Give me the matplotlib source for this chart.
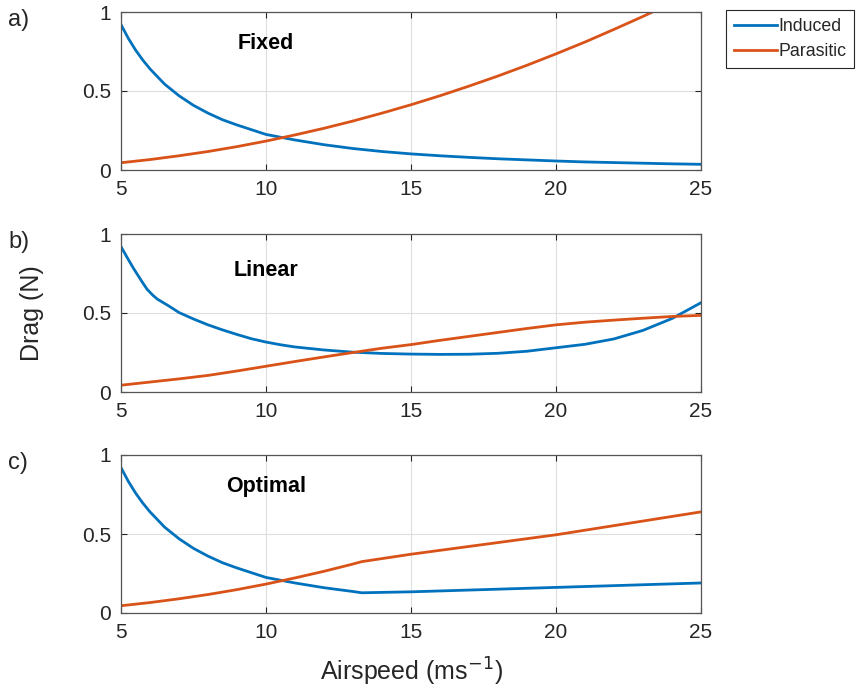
import numpy as np
import matplotlib.pyplot as plt

plt.rcParams['font.family'] = ['Liberation Sans', 'DejaVu Sans']

# airspeed (m/s) and drag (N) for the three strategies
v_fixed_ind = [5, 5.25, 5.5, 5.75, 6, 6.5, 7, 7.5, 8, 8.5, 9, 9.5, 10, 11, 12, 13, 14, 15,
               16, 17, 18, 19, 20, 21, 22, 23, 24, 25]
fixed_induced = [0.92, 0.834, 0.76, 0.696, 0.64, 0.544, 0.47, 0.409, 0.36, 0.318, 0.285,
                 0.255, 0.225, 0.19, 0.16, 0.136, 0.117, 0.102, 0.09, 0.08, 0.071, 0.064,
                 0.057, 0.051, 0.047, 0.043, 0.039, 0.036]
v_fixed_par = [5, 6, 7, 8, 9, 10, 11, 12, 13, 14, 15, 16, 17, 18, 19, 20, 21, 22, 23, 24, 25]
fixed_parasitic = [0.046, 0.066, 0.09, 0.117, 0.148, 0.183, 0.222, 0.264, 0.31, 0.36, 0.413,
                   0.47, 0.531, 0.595, 0.663, 0.735, 0.81, 0.89, 0.972, 1.058, 1.148]

v_lin_ind = [5, 5.2, 5.44, 5.7, 5.9, 6.1, 6.26, 6.6, 7, 7.5, 8, 8.5, 9, 9.5, 10, 10.5, 11,
             12, 13, 14, 15, 16, 17, 18, 19, 20, 21, 22, 23, 24, 25]
linear_induced = [0.92, 0.855, 0.78, 0.705, 0.65, 0.612, 0.587, 0.55, 0.503, 0.462, 0.425,
                  0.393, 0.364, 0.337, 0.316, 0.299, 0.285, 0.266, 0.252, 0.244, 0.24, 0.238,
                  0.239, 0.245, 0.258, 0.28, 0.302, 0.336, 0.39, 0.465, 0.565]
v_lin_par = [5, 6, 7, 8, 9, 10, 11, 12, 13, 14, 15, 16, 17, 18, 19, 20, 21, 22, 23, 24, 25]
linear_parasitic = [0.043, 0.063, 0.083, 0.105, 0.133, 0.163, 0.193, 0.222, 0.25, 0.277, 0.30,
                    0.327, 0.352, 0.377, 0.402, 0.425, 0.442, 0.455, 0.467, 0.478, 0.485]

v_opt_ind = [5, 5.25, 5.5, 5.75, 6, 6.5, 7, 7.5, 8, 8.5, 9, 9.5, 10, 11, 12, 13, 13.3, 15,
             20, 25]
optimal_induced = [0.92, 0.834, 0.76, 0.696, 0.64, 0.544, 0.47, 0.409, 0.36, 0.318, 0.285,
                   0.255, 0.225, 0.19, 0.16, 0.136, 0.128, 0.134, 0.162, 0.19]
v_opt_par = [5, 6, 7, 8, 9, 10, 11, 12, 13, 13.3, 15, 20, 25]
optimal_parasitic = [0.046, 0.066, 0.09, 0.117, 0.148, 0.183, 0.222, 0.264, 0.31, 0.325,
                     0.372, 0.495, 0.64]

panels = [
    ('a)', 'Fixed', v_fixed_ind, fixed_induced, v_fixed_par, fixed_parasitic),
    ('b)', 'Linear', v_lin_ind, linear_induced, v_lin_par, linear_parasitic),
    ('c)', 'Optimal', v_opt_ind, optimal_induced, v_opt_par, optimal_parasitic),
]

blue = '#0072BD'
orange = '#D95319'
dark = '#262626'

fig = plt.figure(figsize=(8.56, 6.95), dpi=100)
W, H = 856, 695
left, right = 121, 701
tops = [12, 234, 455]
h_px = 158

for (tag, name, xi, yi, xp, yp), top in zip(panels, tops):
    ax = fig.add_axes([left / W, 1 - (top + h_px) / H, (right - left) / W, h_px / H])
    l1, = ax.plot(xi, yi, color=blue, lw=2, label='Induced')
    l2, = ax.plot(xp, yp, color=orange, lw=2, label='Parasitic')
    ax.set_xlim(5, 25)
    ax.set_ylim(0, 1)
    ax.set_xticks([5, 10, 15, 20, 25])
    ax.set_yticks([0, 0.5, 1])
    ax.set_yticklabels(['0', '0.5', '1'])
    ax.grid(True, color='#dedede', lw=0.8)
    ax.tick_params(direction='in', top=True, right=True, length=4, width=0.8,
                   colors=dark, labelsize=15, pad=7)
    for s in ax.spines.values():
        s.set_color('#555555')
        s.set_linewidth(0.9)
    ax.text(10, 0.8 if name != 'Linear' else 0.77, name, ha='center', va='center',
            fontsize=15.5, fontweight='bold', color='black')
    fig.text(8 / W, 1 - (top + 8) / H, tag, ha='left', va='center', fontsize=17, color=dark)

fig.text(32 / W, 1 - 313 / H, 'Drag (N)', rotation=90, ha='center', va='center',
         fontsize=18, color=dark)
fig.text((left + right) / 2 / W, 1 - 672 / H, 'Airspeed (ms$^{-1}$)', ha='center',
         va='center', fontsize=18, color=dark)

leg = fig.legend([l1, l2], ['Induced', 'Parasitic'], loc='upper left',
                 bbox_to_anchor=(726 / W, 1 - 10 / H), fontsize=12.8, frameon=True,
                 fancybox=False, edgecolor=dark, framealpha=1, handlelength=2.4,
                 handletextpad=0.1, borderpad=0.45, labelspacing=0.45, borderaxespad=0)
leg.get_frame().set_linewidth(0.8)
for t in leg.get_texts():
    t.set_color(dark)

fig.savefig('out.png', dpi=100)
